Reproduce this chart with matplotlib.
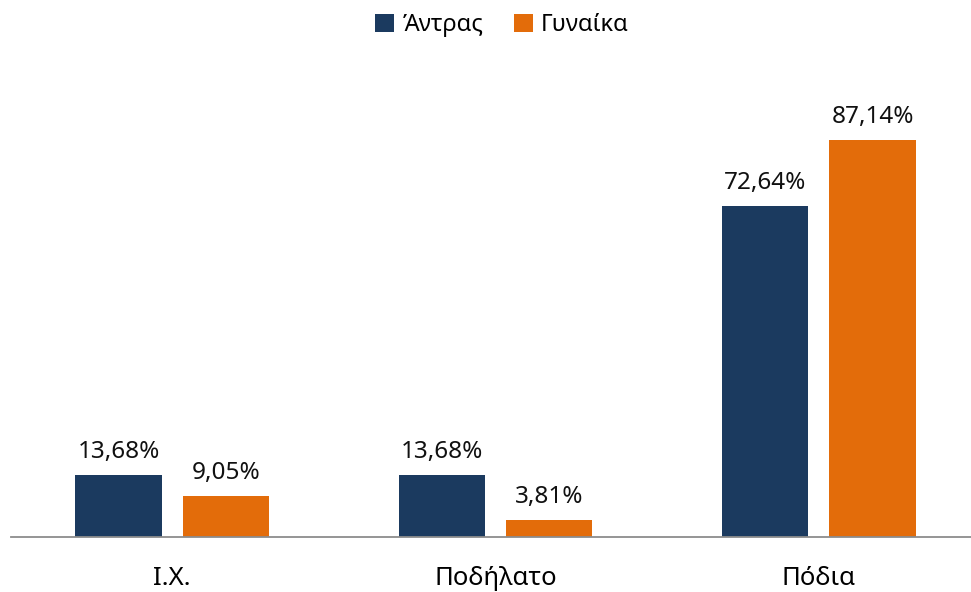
import matplotlib
matplotlib.use("Agg")
import matplotlib.pyplot as plt
import numpy as np

# ── Data ──────────────────────────────────────────────────────────────────────
categories = ["I.X.", "Ποδήλατο", "Πόδια"]
series_names = ["Άντρας", "Γυναίκα"]
men = [13.68, 13.68, 72.64]
women = [9.05, 3.81, 87.14]

NAVY = "#1B3A5F"
ORANGE = "#E36C0A"

plt.rcParams["font.family"] = ["Noto Sans", "DejaVu Sans"]

fig = plt.figure(figsize=(9.71, 5.92), dpi=100)
# axes spans past the right edge, like the source (which was cropped)
ax = fig.add_axes([10.5 / 971, 55 / 592, 970 / 971, 455.6 / 592])

x = np.arange(len(categories))
w = 0.267
off = 0.166

b1 = ax.bar(x - off, men, w, color=NAVY, label=series_names[0])
b2 = ax.bar(x + off, women, w, color=ORANGE, label=series_names[1])

for bars in (b1, b2):
    for rect in bars:
        h = rect.get_height()
        ax.annotate(f"{h:.2f}%".replace(".", ","),
                    (rect.get_x() + rect.get_width() / 2, h),
                    xytext=(0, 8), textcoords="offset points",
                    ha="center", va="bottom", fontsize=17.5, color="#111111")

ax.set_xlim(-0.5, 2.5)
ax.set_ylim(0, 100)
ax.set_xticks(x)
ax.set_xticklabels(categories, fontsize=18.5)
ax.tick_params(axis="x", length=0, pad=21)
ax.set_yticks([])
for s in ("top", "right", "left"):
    ax.spines[s].set_visible(False)
ax.spines["bottom"].set_color("#8C8C8C")
ax.spines["bottom"].set_linewidth(1.3)

fig.legend(handles=[b1, b2], loc="center", bbox_to_anchor=(502 / 971, 1 - 25 / 592),
           ncol=2, frameon=False, fontsize=17, handlelength=0.8, handleheight=0.8,
           handletextpad=0.35, columnspacing=1.3)

fig.savefig("out.png", dpi=100)
